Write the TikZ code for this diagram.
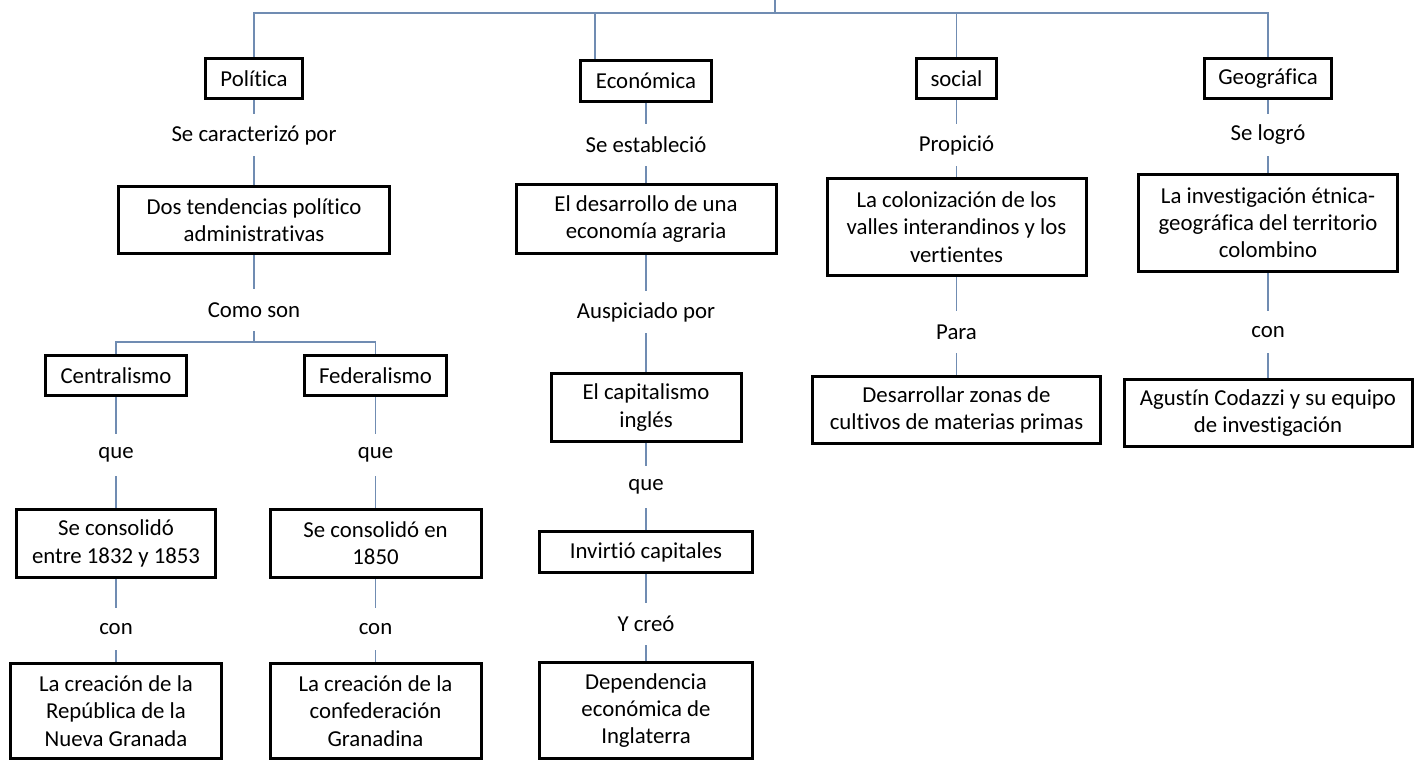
\documentclass[tikz,border=0pt]{standalone}
\usepackage{fontspec}
\setmainfont{Carlito}[Ligatures=NoCommon]
\usepackage{tikz}
\usetikzlibrary{positioning}
\definecolor{linkblue}{RGB}{112,140,178}
\tikzset{
    block/.style={rectangle, draw, line width=1.5pt, align=center, inner sep=2pt, font=\fontsize{11.4}{13.6}\selectfont},
    verb/.style={rectangle, align=center, inner sep=0pt, outer sep=0pt, minimum height=21pt, font=\fontsize{11.4}{13.6}\selectfont},
    link/.style={draw=linkblue, line width=0.6pt}
}

\begin{document}
\begin{tikzpicture}[x=0.5pt, y=-0.5pt]
    \useasboundingbox (0,0) rectangle (1424,762);

    % Top row
    \coordinate (top) at (775,0);
    \coordinate (hub) at (775,13);
    \node[block, minimum width=48.5pt, minimum height=20pt] (Pol) at (254,78.5) {Política};
    \node[block, minimum width=65.5pt, minimum height=20.5pt] (Eco) at (646,81) {Económica};
    \node[block, minimum width=40pt, minimum height=20pt] (Soc) at (956.5,78.5) {social};
    \node[block, minimum width=63.5pt, minimum height=20pt] (Geo) at (1268,78.5) {Geográfica};

    % Politica
    \node[verb, below=7pt of Pol] (LP1) {Se caracterizó por};
    \node[block, below=14.5pt of LP1, minimum width=135.5pt, minimum height=33.5pt] (Dos) {Dos tendencias político\\administrativas};
    \node[verb, below=17pt of Dos] (LP2) {Como son};
    \coordinate[below=5.5pt of LP2] (br);
    \node[block, below=11.5pt of LP2, xshift=-69pt, minimum width=70.5pt, minimum height=20pt] (Cen) {Centralismo};
    \node[block, below=11.5pt of LP2, xshift=60.75pt, minimum width=71pt, minimum height=20pt] (Fed) {Federalismo};
    \node[verb, below=18.5pt of Cen] (LC1) {que};
    \node[block, below=16pt of LC1, minimum width=99.5pt, minimum height=34pt] (SeC) {Se consolidó\\entre 1832 y 1853};
    \node[verb, below=14.5pt of SeC] (LC2) {con};
    \node[block, below=6pt of LC2, minimum width=105.5pt, minimum height=47.5pt] (CreC) {La creación de la\\República de la\\Nueva Granada};
    \node[verb, below=18.5pt of Fed] (LF1) {que};
    \node[block, below=16pt of LF1, minimum width=105.5pt, minimum height=34pt] (SeF) {Se consolidó en\\1850};
    \node[verb, below=14.5pt of SeF] (LF2) {con};
    \node[block, below=6pt of LF2, minimum width=105.5pt, minimum height=47.5pt] (CreF) {La creación de la\\confederación\\Granadina};

    % Economica
    \node[verb, below=10.5pt of Eco] (LE1) {Se estableció};
    \node[block, below=8.5pt of LE1, minimum width=130pt, minimum height=34.5pt] (Des) {El desarrollo de una\\economía agraria};
    \node[verb, below=18pt of Des] (LE2) {Auspiciado por};
    \node[block, below=19.5pt of LE2, minimum width=95pt, minimum height=34pt] (Cap) {El capitalismo\\inglés};
    \node[verb, below=11.5pt of Cap] (LE3) {que};
    \node[block, below=11pt of LE3, minimum width=106.5pt, minimum height=20.5pt] (Inv) {Invirtió capitales};
    \node[verb, below=14.5pt of Inv] (LE4) {Y creó};
    \node[block, below=8pt of LE4, minimum width=106.5pt, minimum height=48pt] (Dep) {Dependencia\\económica de\\Inglaterra};

    % Social
    \node[verb, below=12pt of Soc] (LS1) {Propició};
    \node[block, below=5.5pt of LS1, minimum width=129.5pt, minimum height=48.5pt] (Col) {La colonización de los\\valles interandinos y los\\vertientes};
    \node[verb, below=17pt of Col] (LS2) {Para};
    \node[block, below=11pt of LS2, minimum width=144pt, minimum height=33.5pt] (Zon) {Desarrollar zonas de\\cultivos de materias primas};

    % Geografica
    \node[verb, below=7pt of Geo] (LG1) {Se logró};
    \node[block, below=8.5pt of LG1, minimum width=129.5pt, minimum height=48.5pt] (Etn) {La investigación étnica-\\geográfica del territorio\\colombino};
    \node[verb, below=19pt of Etn] (LG2) {con};
    \node[block, below=12.5pt of LG2, minimum width=144pt, minimum height=33.5pt] (Cod) {Agustín Codazzi y su equipo\\de investigación};

    % Links
    \draw[link] (top) -- (hub);
    \draw[link] (Pol.north) |- (hub) -| (Geo.north);
    \draw[link] ([xshift=-25.5pt]Eco.north) |- (hub);
    \draw[link] (Soc.north) |- (hub);

    \draw[link] (Pol) -- (LP1);
    \draw[link] (LP1) -- (Dos);
    \draw[link] (Dos) -- (LP2);
    \draw[link] (LP2) -- (br);
    \draw[link] (Cen.north) |- (br) -| (Fed.north);
    \draw[link] (Cen) -- (LC1);
    \draw[link] (LC1) -- (SeC);
    \draw[link] (SeC) -- (LC2);
    \draw[link] (LC2) -- (CreC);
    \draw[link] (Fed) -- (LF1);
    \draw[link] (LF1) -- (SeF);
    \draw[link] (SeF) -- (LF2);
    \draw[link] (LF2) -- (CreF);

    \draw[link] (Eco) -- (LE1);
    \draw[link] (LE1) -- (Des);
    \draw[link] (Des) -- (LE2);
    \draw[link] (LE2) -- (Cap);
    \draw[link] (Cap) -- (LE3);
    \draw[link] (LE3) -- (Inv);
    \draw[link] (Inv) -- (LE4);
    \draw[link] (LE4) -- (Dep);

    \draw[link] (Soc) -- (LS1);
    \draw[link] (LS1) -- (Col);
    \draw[link] (Col) -- (LS2);
    \draw[link] (LS2) -- (Zon);

    \draw[link] (Geo) -- (LG1);
    \draw[link] (LG1) -- (Etn);
    \draw[link] (Etn) -- (LG2);
    \draw[link] (LG2) -- (Cod);

\end{tikzpicture}
\end{document}
